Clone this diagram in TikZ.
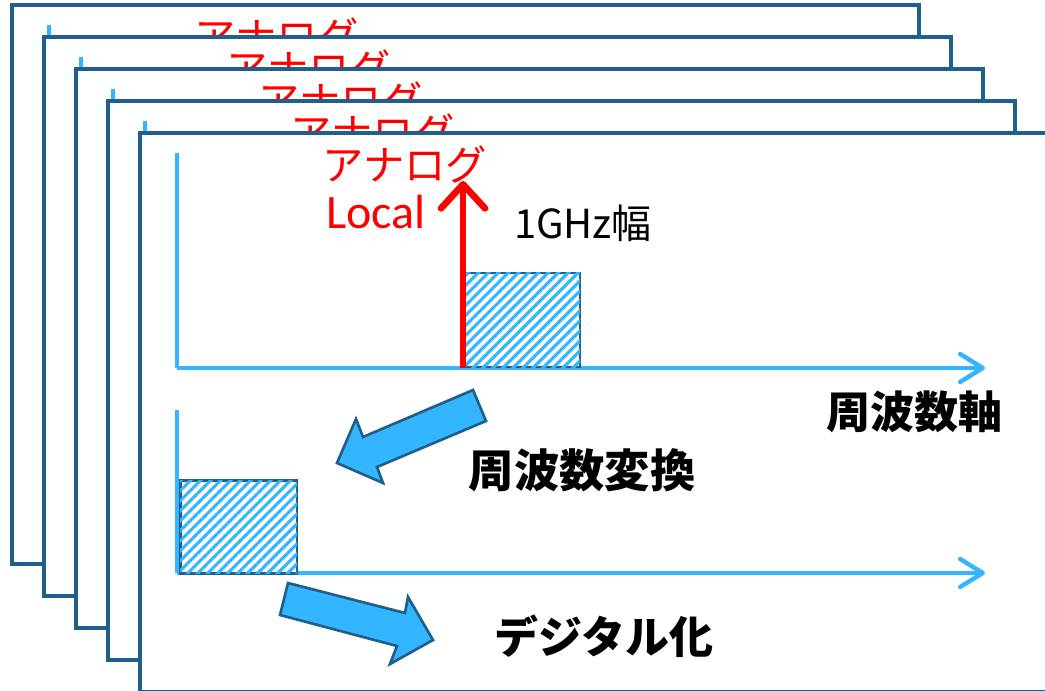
\documentclass[tikz,border=0pt]{standalone}
\usepackage{fontspec}
\newfontfamily\cjk{Noto Sans CJK JP}
\newfontfamily\latf{Carlito}
\usetikzlibrary{arrows.meta,patterns.meta}
\definecolor{lblue}{RGB}{51,182,255}
\definecolor{dblue}{RGB}{31,95,139}
\definecolor{rred}{RGB}{255,0,0}
\tikzset{
  framebox/.style={draw=dblue,line width=3pt,fill=white},
  axisline/.style={draw=lblue,line width=3.3pt},
  axisarrow/.style={axisline,-{Straight Barb[length=17pt,width=21pt,round]}},
  localarrow/.style={draw=rred,line width=5pt,-{Straight Barb[length=18pt,width=33pt,round]}},
  hatchbox/.style={draw=dblue,line width=2pt,fill=white,
    postaction={pattern={Lines[angle=45,distance=5.3pt,line width=2.3pt]},pattern color=lblue},
    inner sep=0pt},
  blockarrow/.style={draw=dblue,line width=2pt,fill=lblue,line join=miter},
  redtext/.style={text=rred,inner sep=0pt},
  blacktext/.style={text=black,inner sep=0pt},
}
% back panel: only the parts that stay visible
\newcommand\backpanel[2]{%
\begin{scope}[shift={(#1,#1)},name prefix=#2-]
  \draw[framebox] (140,133) rectangle (1047,692);
  \coordinate (o1) at (177,368);
  \coordinate (y1) at (177,153);
  \draw[axisline] (y1) -- (o1);
  \node[redtext,font=\cjk\fontsize{31}{31}\selectfont] (ana) at (405,165) {アナログ};
\end{scope}}
\begin{document}
\begin{tikzpicture}[x=0.75pt,y=-0.75pt]
  \useasboundingbox (0,0) rectangle (1045,691);
  \clip (0,0) rectangle (1045,691);
  \fill[white] (0,0) rectangle (1045,691);
  \backpanel{-128}{f0}
  \backpanel{-96}{f1}
  \backpanel{-64}{f2}
  \backpanel{-32}{f3}
  % front panel
  \draw[framebox] (140,133) rectangle (1047,692);
  % upper spectrum
  \coordinate (o1) at (177,368);
  \coordinate (y1) at (177,153);
  \coordinate (x1) at (985,368);
  \draw[axisarrow] (o1) -- (x1);
  \node[hatchbox,minimum width=87pt,minimum height=70.5pt] (band1) at (522,320) {};
  \draw[axisline] (y1) -- (o1);
  \coordinate (rb) at (463,368);
  \coordinate (rt) at (463,181);
  \draw[localarrow] (rb) -- (rt);
  \node[redtext,font=\cjk\fontsize{31}{31}\selectfont] (ana) at (405,165) {アナログ};
  \node[redtext,font=\latf\fontsize{36}{36}\selectfont] (loc) at (376,212) {Local};
  \node[blacktext,font=\cjk\fontsize{30}{30}\selectfont] (ghz) at (583,223) {1GHz幅};
  \node[blacktext,font=\cjk\bfseries\fontsize{33}{33}\selectfont] (faxis) at (914,412) {周波数軸};
  % lower spectrum
  \coordinate (o2) at (177,573);
  \coordinate (y2) at (177,410);
  \coordinate (x2) at (985,573);
  \draw[axisarrow] (o2) -- (x2);
  \node[hatchbox,minimum width=87.5pt,minimum height=70pt] (band2) at (238.5,527) {};
  \draw[axisline] (y2) -- (o2);
  % block arrows
  \draw[blockarrow] (473,390) -- (363,437) -- (356,419) -- (337,463) -- (383,483) -- (377,467) -- (486,421) -- cycle;
  \node[blacktext,font=\cjk\bfseries\fontsize{34}{34}\selectfont] (conv) at (582,470) {周波数変換};
  \draw[blockarrow] (288,583) -- (405,613) -- (408,597) -- (433,640) -- (390,664) -- (397,646) -- (280,615) -- cycle;
  \node[blacktext,font=\cjk\bfseries\fontsize{33}{33}\selectfont] (dig) at (604,636) {デジタル化};
\end{tikzpicture}
\end{document}
